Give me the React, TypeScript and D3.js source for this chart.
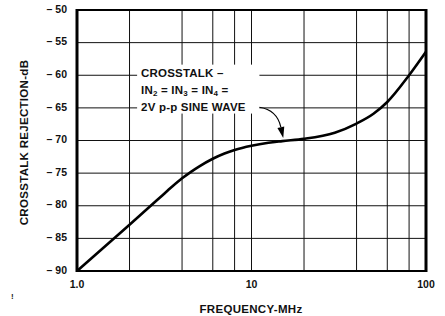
import React from 'react';
import * as d3 from 'd3';

const FREQ = [1, 2, 3, 3.5, 4, 4.5, 5, 6, 7, 8, 10, 12.5, 15, 20, 30, 40, 50, 60, 80, 100];
const REJECTION = [-90, -82.9, -78.7, -77.1, -75.8, -74.8, -74.0, -72.8, -72.0, -71.45, -70.8, -70.35, -70.1, -69.75, -68.8, -67.4, -65.9, -64.1, -60.0, -56.4];

const Y_TICKS = [-50, -55, -60, -65, -70, -75, -80, -85, -90];
const X_GRID = [2, 4, 6, 8, 10, 20, 40, 60, 80];
const X_LABELS: [number, string][] = [[1, '1.0'], [10, '10'], [100, '100']];

// annotation, in data units
const NOTE_F = 2.33;
const NOTE_DB = [-59.6, -62.2, -64.8];
const ARROW_FROM: [number, number] = [11.1, -64.9];
const ARROW_CTRL: [number, number] = [14.0, -65.3];
const ARROW_TIP: [number, number] = [15.2, -69.6];

const W = 445;
const H = 316;
const FONT = "'Liberation Sans', Arial, Helvetica, sans-serif";

export default function App() {
  const x = d3.scaleLog().domain([1, 100]).range([77, 426]);
  const y = d3.scaleLinear().domain([-90, -50]).range([271, 10]);

  const line = d3
    .line<number>()
    .x((_, i) => x(FREQ[i]))
    .y((d) => y(d))
    .curve(d3.curveMonotoneX);

  const [x0, x1] = x.range();
  const [y0, y1] = y.range();

  const ax = x(ARROW_FROM[0]);
  const ay = y(ARROW_FROM[1]);
  const cx = x(ARROW_CTRL[0]);
  const cy = y(ARROW_CTRL[1]);
  const tx = x(ARROW_TIP[0]);
  const ty = y(ARROW_TIP[1]);
  const ang = Math.atan2(ty - cy, tx - cx);
  const hl = 11;
  const hw = 3.5;
  const bx = tx - hl * Math.cos(ang);
  const by = ty - hl * Math.sin(ang);
  const head = `M${tx},${ty}L${bx + hw * Math.sin(ang)},${by - hw * Math.cos(ang)}L${bx - hw * Math.sin(ang)},${by + hw * Math.cos(ang)}Z`;

  const nx = x(NOTE_F);
  const sub = { fontSize: 8 };

  return (
    <svg width={W} height={H} style={{ position: 'absolute', left: 0, top: 0, background: '#fff' }} fontFamily={FONT}>
      {/* grid */}
      {Y_TICKS.map((v) => (
        <line key={'h' + v} x1={x0} x2={x1} y1={y(v)} y2={y(v)} stroke="#111" strokeWidth={1} />
      ))}
      {X_GRID.map((f) => (
        <line key={'v' + f} x1={x(f)} x2={x(f)} y1={y1} y2={y0} stroke="#111" strokeWidth={1} />
      ))}

      {/* note background */}
      <rect x={nx - 4} y={y(NOTE_DB[0]) - 8} width={ax - nx + 4} height={y(NOTE_DB[2]) - y(NOTE_DB[0]) + 15} fill="#fff" />

      {/* frame */}
      <rect x={x0} y={y1} width={x1 - x0} height={y0 - y1} fill="none" stroke="#000" strokeWidth={2} />
      <line x1={x0} x2={x0} y1={y1 - 1} y2={y0 + 1} stroke="#000" strokeWidth={3} />
      <line x1={x1} x2={x1} y1={y1 - 1} y2={y0 + 1} stroke="#000" strokeWidth={3} />

      {/* curve */}
      <path d={line(REJECTION) || ''} fill="none" stroke="#000" strokeWidth={2.6} strokeLinejoin="round" />

      {/* y labels */}
      {Y_TICKS.map((v) => (
        <text key={'yl' + v} x={67} y={y(v) - 1} dy="0.35em" textAnchor="end" fontSize={10.5} fontWeight="bold" fill="#111">
          {'\u2013 ' + Math.abs(v)}
        </text>
      ))}

      {/* x labels */}
      {X_LABELS.map(([f, s]) => (
        <text key={'xl' + f} x={x(f)} y={288} textAnchor="middle" fontSize={10.5} fontWeight="bold" fill="#111">
          {s}
        </text>
      ))}

      <text x={251} y={313} textAnchor="middle" fontSize={11.5} fontWeight="bold" fill="#111" letterSpacing={0.3}>
        FREQUENCY-MHz
      </text>
      <text transform={`translate(28,${(y0 + y1) / 2 + 2}) rotate(-90)`} textAnchor="middle" fontSize={11.5} fontWeight="bold" fill="#111" letterSpacing={0.3}>
        CROSSTALK REJECTION-dB
      </text>
      <text x={11} y={299} fontSize={8} fontWeight="bold" fill="#222">!</text>

      {/* annotation */}
      <g fontSize={11.5} fontWeight="bold" fill="#111" letterSpacing={0.2}>
        <text x={nx} y={y(NOTE_DB[0])} dy="0.35em">CROSSTALK –</text>
        <text x={nx} y={y(NOTE_DB[1])} dy="0.35em">
          IN<tspan {...sub} dy={2.5}>2</tspan>
          <tspan dy={-2.5}> = IN</tspan>
          <tspan {...sub} dy={2.5}>3</tspan>
          <tspan dy={-2.5}> = IN</tspan>
          <tspan {...sub} dy={2.5}>4</tspan>
          <tspan dy={-2.5}> =</tspan>
        </text>
        <text x={nx} y={y(NOTE_DB[2])} dy="0.35em">2V p-p SINE WAVE</text>
      </g>
      <path d={`M${ax},${ay}Q${cx},${cy} ${bx},${by}`} fill="none" stroke="#000" strokeWidth={1.2} />
      <path d={head} fill="#000" />
    </svg>
  );
}
